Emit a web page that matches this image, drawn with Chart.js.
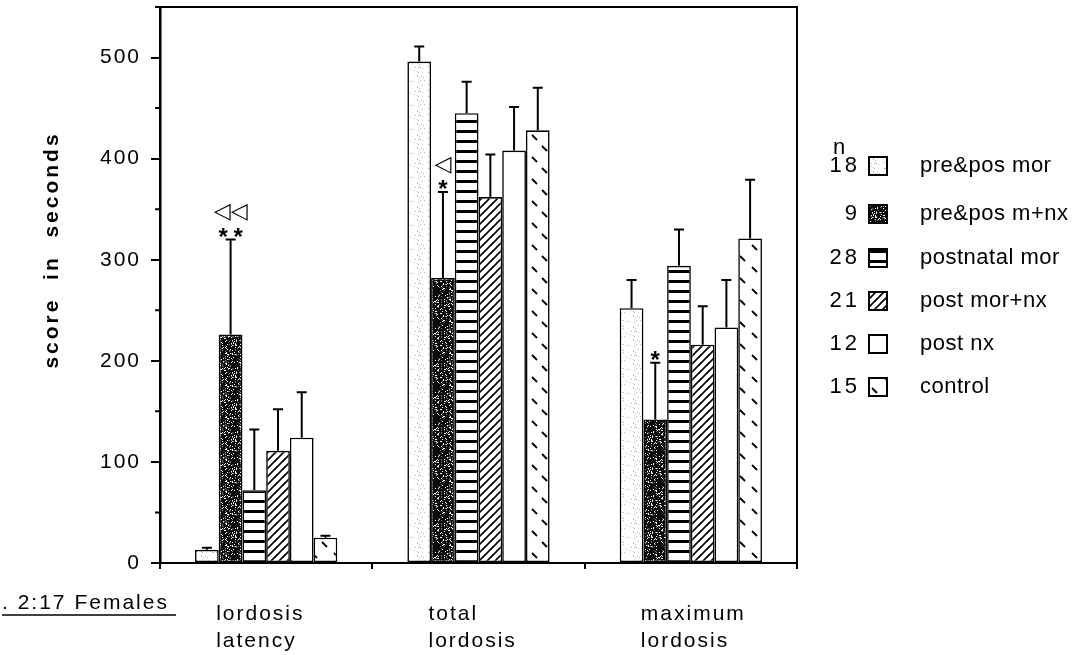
<!DOCTYPE html>
<html>
<head>
<meta charset="utf-8">
<script src="https://cdn.jsdelivr.net/npm/chart.js@4.4.1/dist/chart.umd.min.js"></script>
<style>
  body { margin: 0; background: #fff; }
  canvas { display: block; }
</style>
</head>
<body>
<canvas id="chart" width="1091" height="655"></canvas>
<script>
// categories and series
const categories = [['lordosis', 'latency'], ['total', 'lordosis'], ['maximum', 'lordosis']];
const seriesNames = ['pre&pos mor', 'pre&pos m+nx', 'postnatal mor', 'post mor+nx', 'post nx', 'control'];
const nValues = ['18', '9', '28', '21', '12', '15'];

// means per series (lordosis latency, total lordosis, maximum lordosis)
const preposMor = [13, 496, 252];
const preposMnx = [226, 282, 142];
const postnatalMor = [72, 445, 294];
const postMorNx = [111, 362, 216];
const postNx = [124, 408, 233];
const control = [25, 428, 321];

// upper error bars (SEM)
const preposMorErr = [2, 15, 28];
const preposMnxErr = [94, 85, 56];
const postnatalMorErr = [60, 31, 36];
const postMorNxErr = [41, 42, 38];
const postNxErr = [45, 43, 47];
const controlErr = [2, 42, 58];

// significance marks above pre&pos m+nx
const starMarks = ['**', '*', '*'];
const triangleMarks = ['◁◁', '◁', ''];

const yTicks = [0, 100, 200, 300, 400, 500];
const yMinorTicks = [50, 150, 250, 350, 450, 550];

const FONT = '"Liberation Sans", Arial, Helvetica, sans-serif';

// --- fill patterns ---
function makeTile(w, h, draw) {
    const c = document.createElement('canvas');
    c.width = w; c.height = h;
    const g = c.getContext('2d');
    draw(g, w, h);
    return c;
}
function hash(x, y) {
    let n = x * 374761393 + y * 668265263;
    n = (n ^ (n >> 13)) * 1274126177;
    return ((n ^ (n >> 16)) >>> 0) % 1000 / 1000;
}
const ctx = document.getElementById('chart').getContext('2d');

const lightStipple = ctx.createPattern(makeTile(24, 24, (g, w, h) => {
    g.fillStyle = '#fff'; g.fillRect(0, 0, w, h);
    g.fillStyle = '#b5b5b5';
    for (let x = 0; x < w; x++) for (let y = 0; y < h; y++)
        if (hash(x, y) < 0.07) g.fillRect(x, y, 1, 1);
}), 'repeat');

const darkStipple = ctx.createPattern(makeTile(32, 32, (g, w, h) => {
    g.fillStyle = '#0c0c0c'; g.fillRect(0, 0, w, h);
    for (let x = 0; x < w; x++) for (let y = 0; y < h; y++) {
        const r = hash(x + 7, y + 3);
        if (r < 0.12) { g.fillStyle = '#fff'; g.fillRect(x, y, 1, 1); }
        else if (r < 0.2) { g.fillStyle = '#777'; g.fillRect(x, y, 1, 1); }
    }
}), 'repeat');

const hStripes = ctx.createPattern(makeTile(10, 10, (g, w, h) => {
    g.fillStyle = '#fff'; g.fillRect(0, 0, w, h);
    g.fillStyle = '#000'; g.fillRect(0, 0, w, 3);
}), 'repeat');

const diagHatch = ctx.createPattern(makeTile(8, 8, (g, w, h) => {
    g.fillStyle = '#fff'; g.fillRect(0, 0, w, h);
    g.strokeStyle = '#000'; g.lineWidth = 1.6;
    g.beginPath();
    g.moveTo(-1, 9); g.lineTo(9, -1);
    g.moveTo(-5, 5); g.lineTo(5, -5);
    g.moveTo(3, 13); g.lineTo(13, 3);
    g.stroke();
}), 'repeat');

const dashMarks = ctx.createPattern(makeTile(22, 22, (g, w, h) => {
    g.fillStyle = '#fff'; g.fillRect(0, 0, w, h);
    g.strokeStyle = '#000'; g.lineWidth = 1.8;
    g.beginPath();
    g.moveTo(4, 3); g.lineTo(9, 8);
    g.moveTo(14, 14); g.lineTo(19, 19);
    g.stroke();
}), 'repeat');

const fills = [lightStipple, darkStipple, hStripes, diagHatch, '#fff', dashMarks];
const values = [preposMor, preposMnx, postnatalMor, postMorNx, postNx, control];
const errors = [preposMorErr, preposMnxErr, postnatalMorErr, postMorNxErr, postNxErr, controlErr];

const extras = {
    id: 'extras',
    beforeDraw(chart) {
        chart.ctx.letterSpacing = '2px';
    },
    beforeDatasetsDraw(chart) {
        chart.ctx.letterSpacing = '0px';
    },
    afterDatasetsDraw(chart) {
        const c = chart.ctx;
        const y = chart.scales.y;
        c.save();
        c.strokeStyle = '#000';
        c.fillStyle = '#000';
        c.lineWidth = 2;
        values.forEach((vals, i) => {
            const meta = chart.getDatasetMeta(i);
            meta.data.forEach((bar, j) => {
                const top = y.getPixelForValue(vals[j]);
                const cap = y.getPixelForValue(vals[j] + errors[i][j]);
                c.beginPath();
                c.moveTo(bar.x, top);
                c.lineTo(bar.x, cap);
                c.moveTo(bar.x - 5, cap);
                c.lineTo(bar.x + 5, cap);
                c.stroke();
                if (i === 1) {
                    c.textAlign = 'center';
                    c.textBaseline = 'alphabetic';
                    c.font = 'bold 24px ' + FONT;
                    const s = starMarks[j];
                    for (let k = 0; k < s.length; k++) {
                        c.fillText(s[k], bar.x + (k - (s.length - 1) / 2) * 15, cap + 5);
                    }
                    c.textBaseline = 'middle';
                    c.font = '22px "DejaVu Sans", sans-serif';
                    const t = triangleMarks[j];
                    for (let k = 0; k < t.length; k++) {
                        c.fillText(t[k], bar.x + (k - (t.length - 1) / 2) * 17, cap - 27);
                    }
                }
            });
        });
        c.restore();
    },
    afterDraw(chart) {
        const c = chart.ctx;
        const a = chart.chartArea;
        const y = chart.scales.y;
        c.save();
        c.letterSpacing = '0px';
        // frame
        c.strokeStyle = '#000';
        c.lineWidth = 2;
        c.beginPath();
        c.moveTo(a.left, a.top);
        c.lineTo(a.right, a.top);
        c.lineTo(a.right, a.bottom);
        c.stroke();
        // minor ticks
        c.beginPath();
        yMinorTicks.forEach(v => {
            const p = y.getPixelForValue(v);
            c.moveTo(a.left - 5, p);
            c.lineTo(a.left, p);
        });
        c.stroke();

        // y title
        c.save();
        c.translate(52, 250);
        c.rotate(-Math.PI / 2);
        c.font = 'bold 21px ' + FONT;
        c.letterSpacing = '3px';
        c.textAlign = 'center';
        c.textBaseline = 'middle';
        c.fillStyle = '#000';
        c.fillText('score  in  seconds', 0, 0);
        c.restore();

        // legend
        const rowY = [166, 214, 258, 301, 344, 387];
        c.fillStyle = '#000';
        c.textBaseline = 'middle';
        c.font = '22px ' + FONT;
        c.textAlign = 'center';
        c.fillText('n', 839, 148);
        seriesNames.forEach((name, i) => {
            const ry = rowY[i];
            c.letterSpacing = '3px';
            c.textAlign = 'right';
            c.fillText(nValues[i], 860, ry);
            c.letterSpacing = '0.5px';
            c.textAlign = 'left';
            c.fillText(name, 920, ry);
            c.fillStyle = fills[i];
            c.fillRect(869, ry - 9, 18, 18);
            c.fillStyle = '#000';
            c.lineWidth = 2;
            c.strokeRect(869, ry - 9, 18, 18);
        });

        // caption
        c.font = '21px ' + FONT;
        c.letterSpacing = '2px';
        c.textAlign = 'left';
        c.textBaseline = 'alphabetic';
        c.fillText('. 2:17 Females', 2, 609);
        c.lineWidth = 1.5;
        c.beginPath();
        c.moveTo(2, 615);
        c.lineTo(176, 615);
        c.stroke();
        c.restore();
    }
};

new Chart(ctx, {
    type: 'bar',
    data: {
        labels: categories,
        datasets: seriesNames.map((name, i) => ({
            label: name,
            data: values[i],
            backgroundColor: fills[i],
            borderColor: '#000',
            borderWidth: 1.6,
            borderSkipped: false,
            categoryPercentage: 0.67,
            barPercentage: 1.0
        }))
    },
    options: {
        responsive: false,
        animation: false,
        layout: { padding: { left: 0, top: 7, right: 294, bottom: 0 } },
        plugins: { legend: { display: false }, tooltip: { enabled: false } },
        scales: {
            x: {
                grid: { offset: true, drawOnChartArea: false, tickLength: 6, color: '#000', lineWidth: 2 },
                border: { color: '#000', width: 2 },
                ticks: {
                    align: 'start', labelOffset: -50, padding: 32, color: '#000',
                    maxRotation: 0, autoSkip: false,
                    font: { family: FONT, size: 21, lineHeight: 1.29 }
                },
                afterFit(scale) { scale.height = 92; scale.paddingLeft = 0; scale.paddingRight = 0; }
            },
            y: {
                min: 0, max: 550,
                ticks: {
                    stepSize: 100, includeBounds: false, padding: 10, color: '#000',
                    font: { family: FONT, size: 21 },
                    callback: v => yTicks.includes(v) ? String(v) : ''
                },
                grid: { drawOnChartArea: false, tickLength: 9, color: '#000', lineWidth: 2 },
                border: { color: '#000', width: 2.5 },
                afterFit(scale) { scale.width = 160; scale.paddingTop = 0; scale.paddingBottom = 0; }
            }
        }
    },
    plugins: [extras]
});
</script>
</body>
</html>
